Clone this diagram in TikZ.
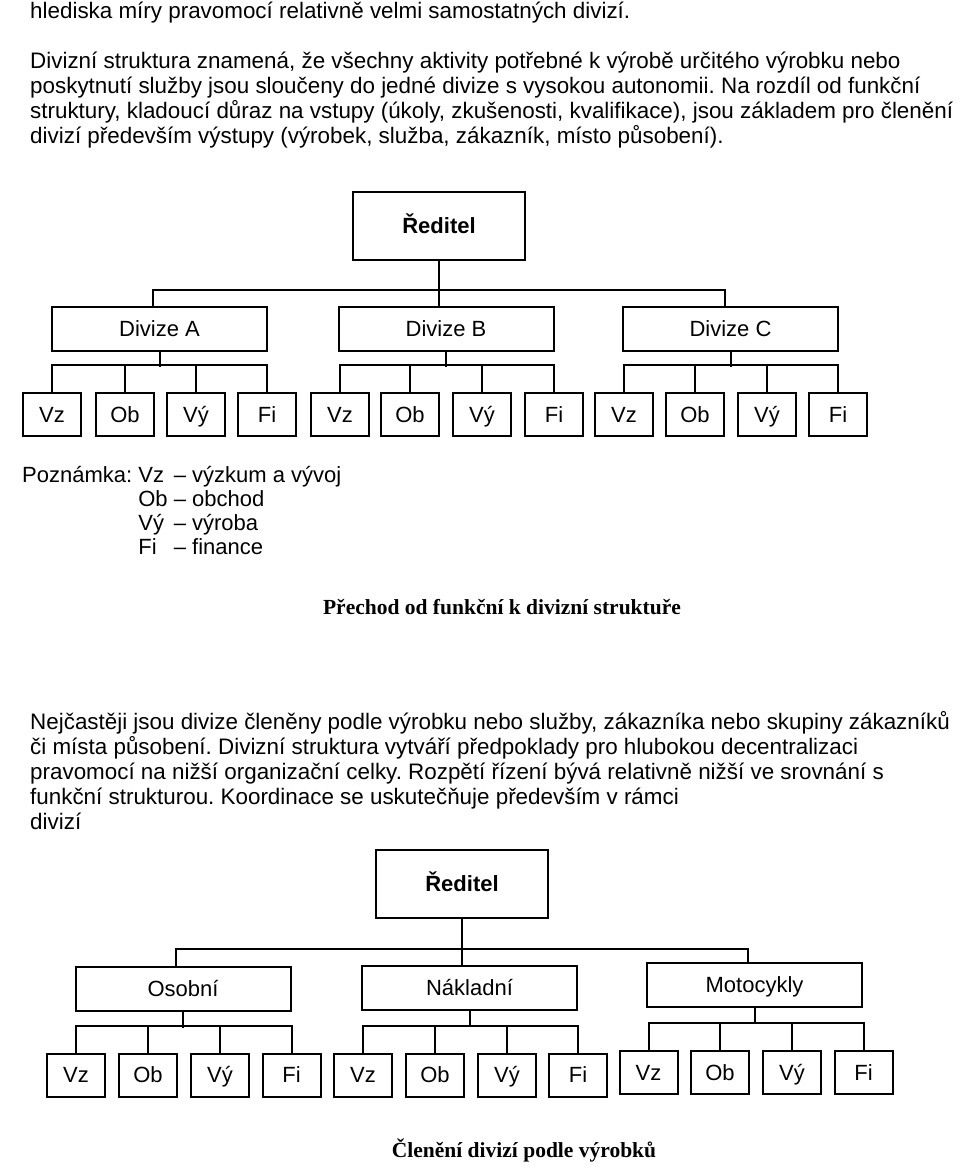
\documentclass[tikz,border=0pt]{standalone}
\usepackage{fontspec}
\setmainfont{Liberation Sans}
\newfontfamily\titlefont{Liberation Serif}
\usetikzlibrary{positioning}
\frenchspacing

\begin{document}
\begin{tikzpicture}[x=1pt, y=-1pt,
    box/.style={draw, line width=2pt, inner sep=0pt, text height=15.8pt, text depth=0pt,
      font=\fontsize{22}{22}\selectfont},
    leaf/.style={box, minimum width=58pt, minimum height=43pt},
    divbox/.style={box, minimum width=215pt, minimum height=44pt},
    topbox/.style={box, minimum width=172pt, minimum height=68pt, font=\fontsize{22}{22}\selectfont\bfseries},
    link/.style={line width=2pt},
    para/.style={anchor=base west, inner sep=0pt, font=\fontsize{22.4}{25}\selectfont},
    caption/.style={font=\fontsize{21.5}{21.5}\selectfont\titlefont\bfseries}]
  \useasboundingbox[fill=white] (0,0) rectangle (960,1176);

  % Text above
  \node[para] (parA) at (30,18) {hlediska míry pravomocí relativně velmi samostatných divizí.};
  \foreach \i/\t in {0/{Divizní struktura znamená, že všechny aktivity potřebné k výrobě určitého výrobku nebo},
                     1/{poskytnutí služby jsou sloučeny do jedné divize s vysokou autonomii. Na rozdíl od funkční},
                     2/{struktury, kladoucí důraz na vstupy (úkoly, zkušenosti, kvalifikace), jsou základem pro členění},
                     3/{divizí především výstupy (výrobek, služba, zákazník, místo působení).}} {
    \node[para] (parB\i) at (30,{68+25.2*\i}) {\t};
  }

  % First chart
  \node[topbox] (red) at (439,226) {Ředitel};
  \node[divbox] (divA) at (159.5,329) {Divize A};
  \node[divbox] (divB) at (446,329) {Divize B};
  \node[divbox] (divC) at (730.5,329) {Divize C};

  \draw[link] (red.south) -- (red.south |- divB.north);
  \draw[link] ([xshift=-6.5pt]divA.north) -- ++(0,-16) -| ([xshift=-5.5pt]divC.north);

  \foreach \d/\a/\b/\c/\e in {A/52/125/196/267, B/340/410/482/554, C/624/695/767/838} {
    \foreach \k/\x/\t in {1/\a/Vz, 2/\b/Ob, 3/\c/Vý, 4/\e/Fi} {
      \node[leaf] (leaf\d\k) at (\x,414.5) {\t};
    }
    \draw[link] (div\d.south) -- ++(0,15);
    \draw[link] (leaf\d1.north) -- ++(0,-27) -| (leaf\d4.north);
    \draw[link] (leaf\d2.north) -- ++(0,-27);
    \draw[link] (leaf\d3.north) -- ++(0,-27);
  }

  % Note
  \node[anchor=base west, inner sep=0pt, font=\fontsize{22}{24}\selectfont] (note) at (22,482) {%
    \begin{tabular}[t]{@{}l@{ }l@{ }l@{}}
      Poznámka: & Vz & – výzkum a vývoj\\
                & Ob & – obchod\\
                & Vý & – výroba\\
                & Fi & – finance
    \end{tabular}};

  \node[caption] (cap1) at (502,607) {Přechod od funkční k divizní struktuře};

  % Text between
  \foreach \i/\t in {0/{Nejčastěji jsou divize členěny podle výrobku nebo služby, zákazníka nebo skupiny zákazníků},
                     1/{či místa působení. Divizní struktura vytváří předpoklady pro hlubokou decentralizaci},
                     2/{pravomocí na nižší organizační celky. Rozpětí řízení bývá relativně nižší ve srovnání s},
                     3/{funkční strukturou. Koordinace se uskutečňuje především v rámci},
                     4/{divizí}} {
    \node[para] (parC\i) at (30,{729+25*\i}) {\t};
  }

  % Second chart
  \node[topbox] (red2) at (462,884) {Ředitel};
  \node[divbox] (divO) at (183,988.5) {Osobní};
  \node[divbox] (divN) at (469.5,988) {Nákladní};
  \node[divbox] (divM) at (754.5,985) {Motocykly};

  \draw[link] (red2.south) -- (red2.south |- divN.north);
  \draw[link] ([xshift=-7pt]divO.north) -- ++(0,-17) -| ([xshift=-6.5pt]divM.north);

  \foreach \d/\y/\a/\b/\c/\e in {O/1075/76/148/220/291.5, N/1075/363/435/507/578, M/1072.5/648.5/720/792/863.5} {
    \foreach \k/\x/\t in {1/\a/Vz, 2/\b/Ob, 3/\c/Vý, 4/\e/Fi} {
      \node[leaf] (leaf\d\k) at (\x,\y) {\t};
    }
    \draw[link] (div\d.south) -- ++(0,16);
    \draw[link] (leaf\d1.north) -- ++(0,-27) -| (leaf\d4.north);
    \draw[link] (leaf\d2.north) -- ++(0,-27);
    \draw[link] (leaf\d3.north) -- ++(0,-27);
  }

  \node[caption] (cap2) at (524,1150) {Členění divizí podle výrobků};
\end{tikzpicture}
\end{document}
